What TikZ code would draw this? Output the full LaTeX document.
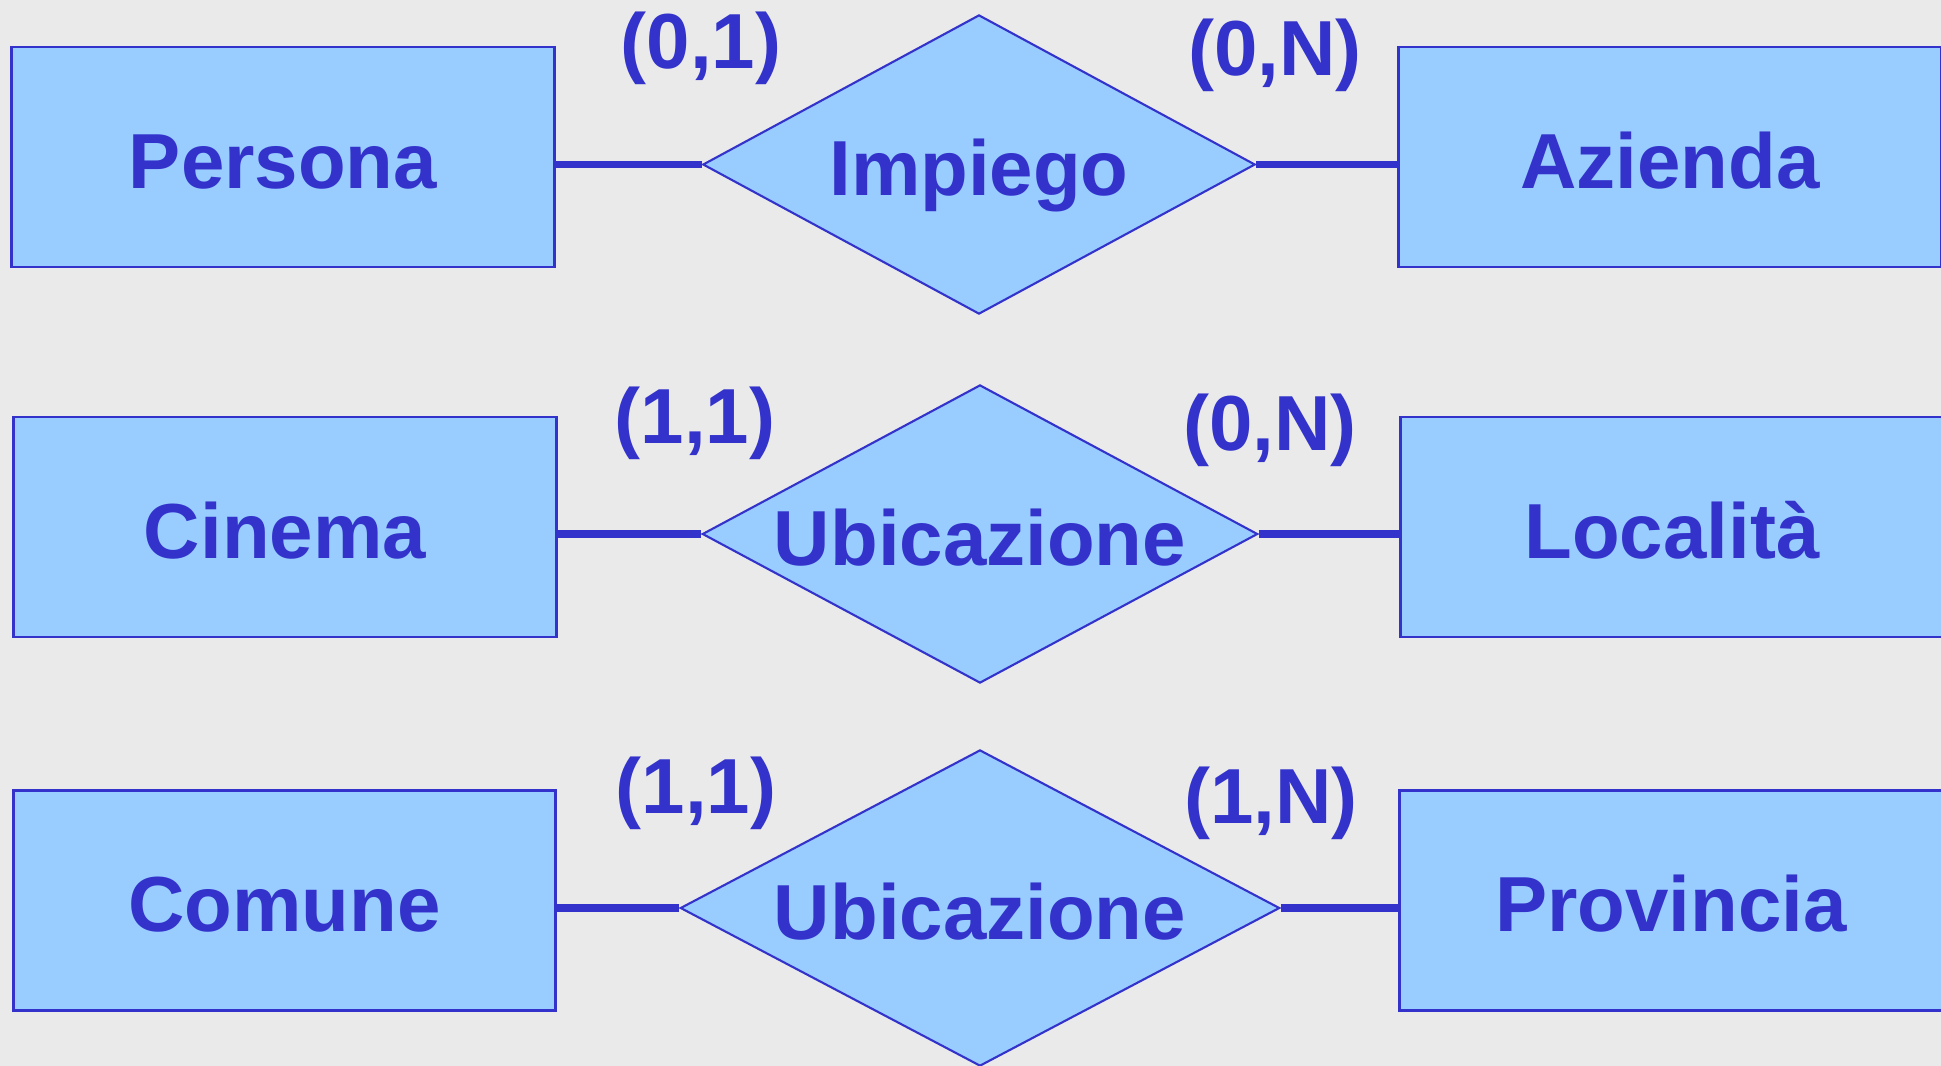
\documentclass[tikz,border=0pt]{standalone}
\usepackage{fontspec}
\setmainfont{Liberation Sans}
\usetikzlibrary{shapes.geometric}
\definecolor{erfill}{HTML}{99CCFF}
\definecolor{erline}{HTML}{3333CC}
\definecolor{erback}{HTML}{EAEAEA}

\begin{document}
\begin{tikzpicture}[x=0.01cm,y=-0.01cm]
                            \fill[erback] (0,0) rectangle (1941,1066);
                            \useasboundingbox (0,0) rectangle (1941,1066);
                            \begin{scope}[every node/.style={rectangle,draw=erline,fill=erfill,line width=0.8pt,text=erline,font=\fontsize{22.2}{26}\selectfont\bfseries,minimum width=5.42cm,minimum height=2.2cm,text height=0.62cm,text depth=0pt,inner sep=0pt}]
                                \node (Persona) at (283,157) {Persona};
                                \node (Azienda) at (1670,157) {Azienda};
                                \node (Cinema) at (285,527) {Cinema};
                                \node (Localita) at (1672,527) {Località};
                                \node (Comune) at (284.5,900.5) {Comune};
                                \node (Provincia) at (1671,900.5) {Provincia};
                            \end{scope}
                            \begin{scope}[every node/.style={diamond,shape aspect=1.85,draw=erline,fill=erfill,line width=0.6pt,text=erline,font=\fontsize{22.2}{26}\selectfont\bfseries,text height=0.62cm,text depth=0pt,inner sep=0pt}]
                                \node[minimum width=5.52cm,minimum height=2.99cm] (Impiego) at (979,164.5) {Impiego};
                                \node[minimum width=5.55cm,minimum height=2.98cm] (UbicA) at (980,534) {Ubicazione};
                                \node[minimum width=5.99cm,minimum height=3.16cm] (UbicB) at (980,908) {Ubicazione};
                            \end{scope}
                            \begin{scope}[every node/.style={text=erline,font=\fontsize{22.2}{26}\selectfont\bfseries,inner sep=0pt}]
                                \node (cPersona) at (701,48) {(0,1)};
                                \node (cAzienda) at (1275,55) {(0,N)};
                                \node (cCinema) at (695,423) {(1,1)};
                                \node (cLocalita) at (1270,430) {(0,N)};
                                \node (cComune) at (696,793) {(1,1)};
                                \node (cProvincia) at (1271,803) {(1,N)};
                            \end{scope}
                            \begin{scope}[every edge/.style={draw=erline,line width=2.2pt}]
                                \draw (Persona.east |- Impiego.west) edge (Impiego.west);
                                \draw (Impiego.east) edge (Azienda.west |- Impiego.east);
                                \draw (Cinema.east |- UbicA.west) edge (UbicA.west);
                                \draw (UbicA.east) edge (Localita.west |- UbicA.east);
                                \draw (Comune.east |- UbicB.west) edge (UbicB.west);
                                \draw (UbicB.east) edge (Provincia.west |- UbicB.east);
                            \end{scope}
                        \end{tikzpicture}
\end{document}
